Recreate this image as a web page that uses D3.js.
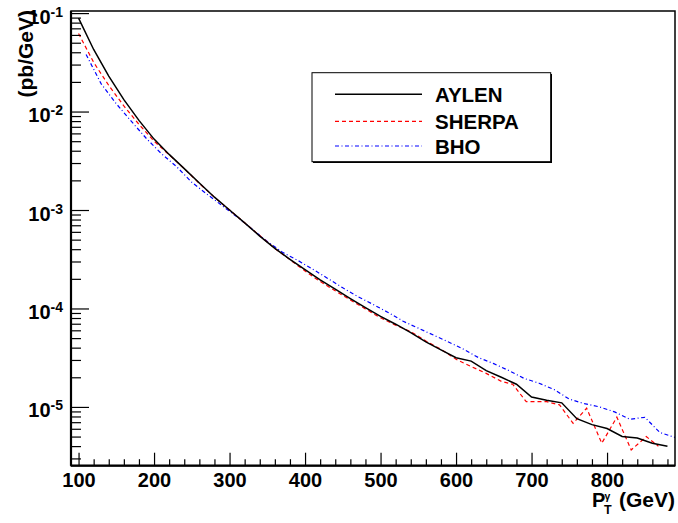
<!DOCTYPE html>
<html lang="en">
<head>
    <meta charset="UTF-8">
    <title>Photon pT spectrum</title>
    <script src="https://d3js.org/d3.v7.min.js"></script>
    <style>
        body { margin: 0; background: #fff; }
        svg { display: block; font-family: "Liberation Sans", Arial, sans-serif; font-weight: bold; }
        .curve { fill: none; }
    </style>
</head>
<body>
    <svg id="chart" width="678" height="523"></svg>
    <script>
        // Data (x in GeV, y in pb/GeV)
        const aylenX = [100,120,140,160,180,200,220,240,260,280,300,320,340,360,380,400,420,440,460,480,
                        500,520,540,560,580,600,620,640,660,680,700,720,740,760,780,800,820,840,860,880];
        const aylenY = [8.89e-2,4.27e-2,2.29e-2,1.32e-2,8.13e-3,5.25e-3,3.67e-3,2.63e-3,1.88e-3,1.35e-3,
                        1.00e-3,7.41e-4,5.43e-4,4.07e-4,3.16e-4,2.48e-4,1.95e-4,1.57e-4,1.26e-4,1.02e-4,
                        8.32e-5,6.92e-5,5.69e-5,4.57e-5,3.80e-5,3.16e-5,2.92e-5,2.34e-5,2.00e-5,1.70e-5,
                        1.26e-5,1.17e-5,1.10e-5,7.59e-6,6.61e-6,6.03e-6,5.01e-6,4.84e-6,4.27e-6,3.98e-6];

        const sherpaX = [100,120,140,160,180,200,220,240,260,280,300,320,340,360,380,400,420,440,460,480,
                         500,520,540,560,580,600,620,640,660,675,693,720,737,755,773,793,813,832,852,868];
        const sherpaY = [6.21e-2,3.16e-2,1.84e-2,1.14e-2,7.41e-3,5.01e-3,3.63e-3,2.63e-3,1.86e-3,1.35e-3,
                         1.00e-3,7.41e-4,5.50e-4,4.07e-4,3.13e-4,2.40e-4,1.88e-4,1.51e-4,1.22e-4,9.89e-5,
                         8.04e-5,6.76e-5,5.82e-5,4.68e-5,3.85e-5,3.05e-5,2.57e-5,2.19e-5,1.82e-5,1.70e-5,
                         1.13e-5,1.13e-5,1.05e-5,6.82e-6,9.71e-6,4.28e-6,7.87e-6,3.66e-6,5.00e-6,3.98e-6];

        const bhoX = [110,130,150,170,190,210,230,250,270,290,310,330,350,370,390,410,430,450,470,490,
                      510,530,550,570,590,610,630,650,670,690,710,730,750,770,790,810,830,850,870,890];
        const bhoY = [3.80e-2,1.91e-2,1.20e-2,7.94e-3,5.31e-3,3.72e-3,2.75e-3,1.91e-3,1.45e-3,1.11e-3,
                      8.51e-4,6.38e-4,4.79e-4,3.72e-4,3.09e-4,2.51e-4,2.02e-4,1.62e-4,1.32e-4,1.10e-4,
                      9.12e-5,7.41e-5,6.31e-5,5.37e-5,4.57e-5,3.85e-5,3.16e-5,2.75e-5,2.34e-5,1.95e-5,
                      1.74e-5,1.50e-5,1.20e-5,1.08e-5,1.00e-5,8.91e-6,7.50e-6,7.85e-6,5.50e-6,4.90e-6];

        const seriesNames = ["AYLEN", "SHERPA", "BHO"];
        const xMajor = [100, 200, 300, 400, 500, 600, 700, 800];
        const yMajorExp = [-5, -4, -3, -2, -1];

        // Frame
        const mLeft = 71, mRight = 675, mTop = 11, mBottom = 465.7;
        const svg = d3.select("#chart");

        const x = d3.scaleLinear().domain([90, 890]).range([mLeft, mRight]);
        const y = d3.scaleLog().domain([2.53e-6, 0.105]).range([mBottom, mTop]);

        // minor tick values
        const xMinor = d3.range(100, 890, 20).filter(v => !xMajor.includes(v));
        const yMinor = [];
        for (let e = -6; e <= -1; e++) {
            for (let k = 2; k <= 9; k++) {
                const v = k * Math.pow(10, e);
                if (v > y.domain()[0] && v < y.domain()[1]) yMinor.push(v);
            }
        }

        // Clip
        svg.append("defs").append("clipPath").attr("id", "clip")
            .append("rect").attr("x", mLeft).attr("y", mTop)
            .attr("width", mRight - mLeft).attr("height", mBottom - mTop);

        // Curves
        const series = [
            { xs: aylenX, ys: aylenY, color: "#000", width: 1.5, dash: null },
            { xs: sherpaX, ys: sherpaY, color: "#ff0000", width: 1.2, dash: "4,3" },
            { xs: bhoX, ys: bhoY, color: "#0000ff", width: 1.2, dash: "4,2.5,1,2.5" }
        ];
        const line = d3.line().x(d => x(d[0])).y(d => y(d[1]));
        const plot = svg.append("g").attr("clip-path", "url(#clip)");
        series.slice().reverse().forEach(s => {
            plot.append("path")
                .attr("class", "curve")
                .attr("d", line(d3.zip(s.xs, s.ys)))
                .attr("stroke", s.color)
                .attr("stroke-width", s.width)
                .attr("stroke-dasharray", s.dash);
        });

        // X axis (ticks pointing inward)
        const gx = svg.append("g").attr("transform", `translate(0,${mBottom})`);
        gx.call(d3.axisBottom(x).tickValues(xMajor).tickSize(-13).tickPadding(7).tickFormat(d3.format("d")));
        gx.append("g").call(d3.axisBottom(x).tickValues(xMinor).tickSize(-6.5).tickFormat(""));
        gx.selectAll(".domain").remove();
        gx.selectAll("line").attr("stroke", "#000").attr("stroke-width", 1.2);
        gx.selectAll("text").attr("fill", "#000")
            .style("font-size", "20px").style("font-weight", "bold")
            .style("font-family", "'Liberation Sans', Arial, sans-serif");

        // Y axis
        const gy = svg.append("g").attr("transform", `translate(${mLeft},0)`);
        gy.call(d3.axisLeft(y).tickValues(yMajorExp.map(e => Math.pow(10, e))).tickSize(-18).tickFormat(""));
        gy.append("g").call(d3.axisLeft(y).tickValues(yMinor).tickSize(-10).tickFormat(""));
        gy.selectAll(".domain").remove();
        gy.selectAll("line").attr("stroke", "#000").attr("stroke-width", 1.2);

        // y tick labels as 10^n with superscript
        yMajorExp.forEach(e => {
            const t = svg.append("text")
                .attr("x", mLeft - 8)
                .attr("y", y(Math.pow(10, e)) + 10.5)
                .attr("text-anchor", "end")
                .style("font-size", "20px");
            t.append("tspan").text("10");
            t.append("tspan").attr("dy", -7).style("font-size", "14px").text(String(e));
        });

        // Frame
        svg.append("rect")
            .attr("x", mLeft).attr("y", mTop)
            .attr("width", mRight - mLeft).attr("height", mBottom - mTop)
            .attr("fill", "none").attr("stroke", "#000").attr("stroke-width", 1.5);
        svg.append("line").attr("x1", mLeft).attr("x2", mLeft).attr("y1", mTop).attr("y2", mBottom)
            .attr("stroke", "#000").attr("stroke-width", 2.2);
        svg.append("line").attr("x1", mLeft).attr("x2", mRight).attr("y1", mBottom).attr("y2", mBottom)
            .attr("stroke", "#000").attr("stroke-width", 2.2);

        // Axis titles
        svg.append("text")
            .attr("transform", "translate(33,10) rotate(-90)")
            .attr("text-anchor", "end")
            .style("font-size", "21px")
            .text("(pb/GeV)");

        svg.append("text").attr("x", 592).attr("y", 507).style("font-size", "20px").text("P");
        svg.append("text").attr("x", 604).attr("y", 514).style("font-size", "12.5px").text("T");
        svg.append("text").attr("x", 604.5).attr("y", 499.5).style("font-size", "10.5px").text("γ");
        svg.append("text").attr("x", 675).attr("y", 507).attr("text-anchor", "end")
            .style("font-size", "21px").text("(GeV)");

        // Legend
        const lg = svg.append("g");
        lg.append("rect").attr("x", 313).attr("y", 74).attr("width", 239).attr("height", 89).attr("fill", "#000");
        lg.append("rect").attr("x", 312).attr("y", 72.7).attr("width", 238.7).attr("height", 89)
            .attr("fill", "#fff").attr("stroke", "#000").attr("stroke-width", 1);
        const rowY = [94.3, 121.3, 146];
        series.forEach((s, i) => {
            lg.append("line")
                .attr("x1", 335).attr("x2", 422)
                .attr("y1", rowY[i]).attr("y2", rowY[i])
                .attr("stroke", s.color).attr("stroke-width", s.width)
                .attr("stroke-dasharray", s.dash);
            lg.append("text")
                .attr("x", 435).attr("y", rowY[i] + 7.5)
                .style("font-size", "20.5px")
                .text(seriesNames[i]);
        });
    </script>
</body>
</html>
